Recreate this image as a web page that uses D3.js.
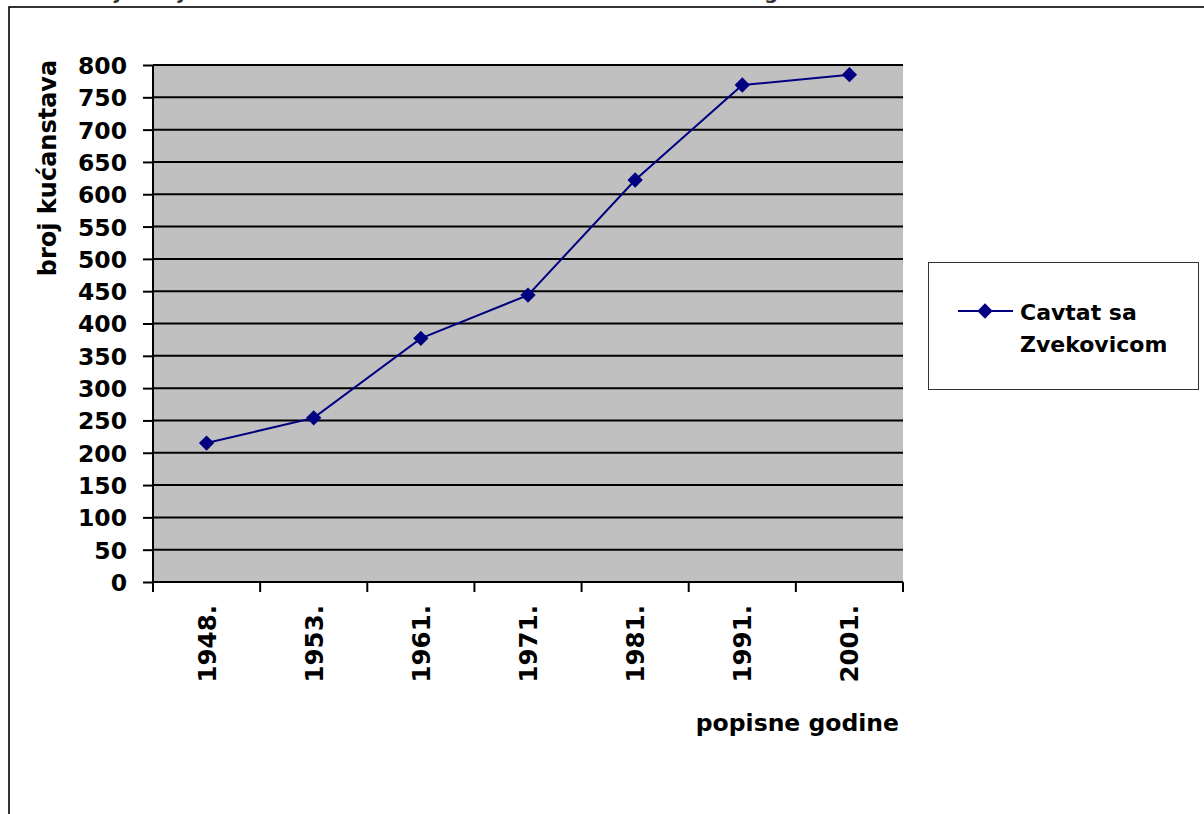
<!DOCTYPE html>
<html>
<head>
<meta charset="utf-8">
<script src="https://cdn.jsdelivr.net/npm/d3@7"></script>
<style>
body{margin:0;background:#fff;}
svg{display:block;font-family:'DejaVu Sans',sans-serif;}
</style>
</head>
<body>
<script>
// census years and household counts
let years=['1948.','1953.','1961.','1971.','1981.','1991.','2001.']
let households=[215,254,377,444,622,769,785]
let yTicks=d3.range(0,801,50)
let seriesName=['Cavtat sa','Zvekovicom']
let title='Kretanje broja kućanstava Cavtata i Zvekovica od 1948. do 2001. godine'

let W=1204,H=814
let pLeft=153,pRight=903,pTop=65,pBottom=582

var svg=d3.select('body').append('svg').attr('width',W).attr('height',H)

// cut-off title at the very top
svg.append('text').attr('x',40).attr('y',-1).attr('fill','#333')
  .style('font-size','19.5px').style('font-weight','bold').text(title)

// outer frame, runs off the page right/bottom
svg.append('rect').attr('x',9).attr('y',7).attr('width',W).attr('height',H)
  .attr('fill','none').attr('stroke','#000').attr('stroke-width',1.6)

var x=d3.scaleBand().domain(years).range([pLeft,pRight])
var y=d3.scaleLinear().domain([0,800]).range([pBottom,pTop])

svg.append('rect').attr('x',pLeft).attr('y',pTop).attr('width',pRight-pLeft).attr('height',pBottom-pTop)
  .attr('fill','#c0c0c0')

// gridlines
svg.append('g').selectAll('line').data(yTicks.filter(d=>d>0)).join('line')
  .attr('x1',pLeft).attr('x2',pRight).attr('y1',d=>y(d)).attr('y2',d=>y(d))
  .attr('stroke','#000').attr('stroke-width',2)

// y axis
var yAxis=svg.append('g').attr('transform','translate('+pLeft+',0)')
  .call(d3.axisLeft(y).tickValues(yTicks).tickSize(10).tickPadding(16))
  .attr('font-family',null)
yAxis.select('.domain').attr('stroke-width',2).attr('d','M0,'+pTop+'V'+pBottom)
yAxis.selectAll('.tick line').attr('stroke-width',2)
yAxis.selectAll('text').style('font-size','23.5px').style('font-weight','bold').attr('fill','#000')
  .attr('dy','0.36em')

// x axis
var xAxis=svg.append('g').attr('transform','translate(0,'+pBottom+')')
  .call(d3.axisBottom(x).tickSize(0).tickFormat(''))
xAxis.select('.domain').attr('stroke-width',2).attr('d','M'+pLeft+',0H'+pRight)
svg.append('g').selectAll('line').data(years.concat(['end'])).join('line')
  .attr('x1',(d,i)=>pLeft+i*x.step()).attr('x2',(d,i)=>pLeft+i*x.step())
  .attr('y1',pBottom).attr('y2',pBottom+10).attr('stroke','#000').attr('stroke-width',2)
svg.append('g').selectAll('text').data(years).join('text')
  .attr('transform',d=>'translate('+(x(d)+x.bandwidth()/2+9)+','+(pBottom+23)+') rotate(-90)')
  .attr('text-anchor','end').style('font-size','24.5px').style('font-weight','bold')
  .text(d=>d)

// axis titles
svg.append('text').attr('transform','translate(56,168) rotate(-90)').attr('text-anchor','middle')
  .style('font-size','24px').style('font-weight','bold').text('broj kućanstava')
svg.append('text').attr('x',899).attr('y',731).attr('text-anchor','end')
  .style('font-size','23.5px').style('font-weight','bold').text('popisne godine')

// series
var line=d3.line().x((d,i)=>x(years[i])+x.bandwidth()/2).y(d=>y(d))
svg.append('path').attr('d',line(households)).attr('fill','none')
  .attr('stroke','#000080').attr('stroke-width',2)
var diamond=d3.symbol().type(d3.symbolDiamond2).size(150)
svg.append('g').selectAll('path').data(households).join('path')
  .attr('d',diamond).attr('fill','#000080')
  .attr('transform',(d,i)=>'translate('+(x(years[i])+x.bandwidth()/2)+','+y(d)+')')

// legend
var lg=svg.append('g')
lg.append('rect').attr('x',928.5).attr('y',262.5).attr('width',270).attr('height',127)
  .attr('fill','#fff').attr('stroke','#333').attr('stroke-width',1)
lg.append('line').attr('x1',958).attr('x2',1013).attr('y1',311).attr('y2',311)
  .attr('stroke','#000080').attr('stroke-width',2)
lg.append('path').attr('d',diamond).attr('fill','#000080').attr('transform','translate(985,311)')
lg.selectAll('text').data(seriesName).join('text')
  .attr('x',1020).attr('y',(d,i)=>320+i*32)
  .style('font-size','22px').style('font-weight','bold').text(d=>d)
</script>
</body>
</html>
